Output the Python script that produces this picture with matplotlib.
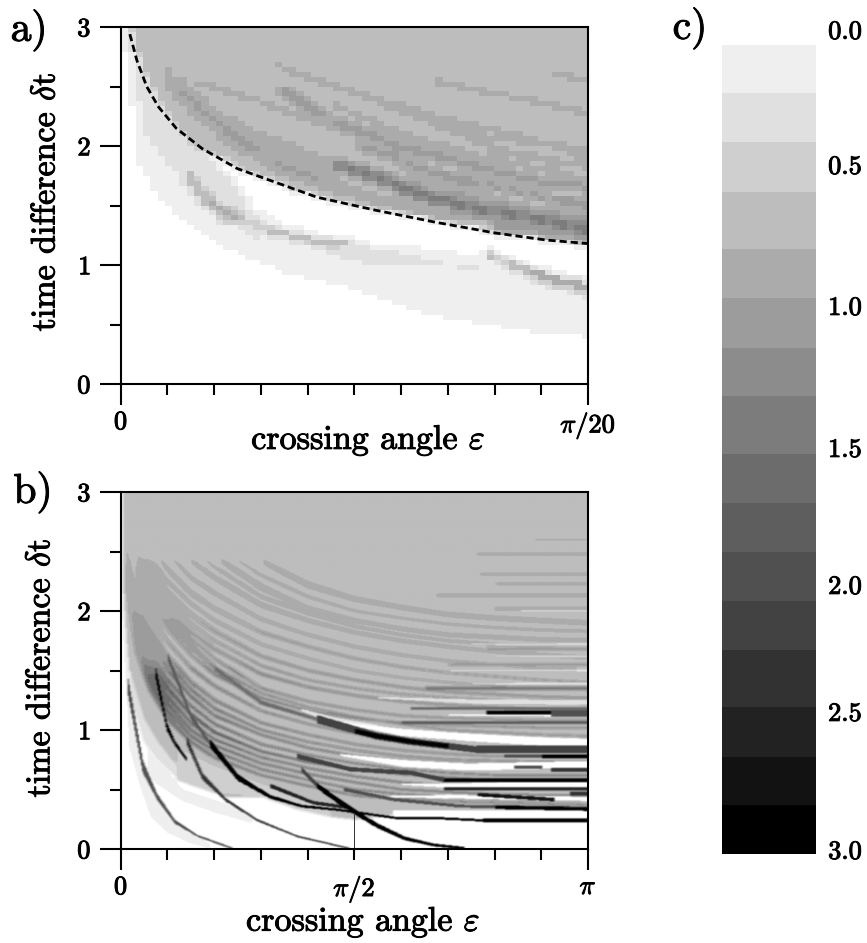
import numpy as np
import matplotlib
matplotlib.use("Agg")
import matplotlib.pyplot as plt
import matplotlib.patheffects as pe
from matplotlib.colors import ListedColormap, BoundaryNorm

W, H = 867, 943
plt.rcParams['font.family'] = ['cmr10', 'DejaVu Serif']
plt.rcParams['mathtext.fontset'] = 'cm'
plt.rcParams['axes.formatter.use_mathtext'] = True

# colour scale (panel c)
band_edges_px = [45, 93, 142, 192, 249, 298, 348, 396, 454, 503, 552, 601, 650, 707, 757, 805, 854]
band_grays = ['#efefef', '#e0e0e0', '#cfcfcf', '#bdbdbd', '#ababab', '#9c9c9c', '#8c8c8c', '#7c7c7c',
              '#6c6c6c', '#5e5e5e', '#505050', '#424242', '#323232', '#222222', '#121212', '#000000']
bar_labels = ['0.0', '0.5', '1.0', '1.5', '2.0', '2.5', '3.0']
bar_label_y = [32, 167, 308, 450, 587, 714, 852]

# ---- panel a: curves in (angle / (pi/20), dt)
a_dash_x = [.02, .035, .056, .081, .119, .174, .25, .335, .42, .546, .673, .80, .91, 1.0]
a_dash_y = [2.94, 2.72, 2.50, 2.33, 2.15, 1.98, 1.81, 1.69, 1.57, 1.46, 1.36, 1.27, 1.21, 1.18]
a_low_x = [.02, .026, .039, .056, .081, .124, .166, .217, .284, .36, .462, .589, .673, .758, .843, .927, 1.0]
a_low_y = [2.9, 2.02, 1.85, 1.74, 1.57, 1.41, 1.27, 1.15, 1.04, .92, .83, .68, .57, .51, .46, .41, .39]
a_regions = [  # xs, lo, hi, level
    ([.174, .25, .35, .5, .7, .85, 1], [1.97, 1.55, 1.35, 1.2, 1.12, 1.0, .88], [1.98, 1.81, 1.66, 1.5, 1.36, 1.26, 1.18], 0.0),
    ([.02, .05, .1, .15, .2, .25, .3], [2.9, 2.1, 1.85, 1.65, 1.45, 1.3, 1.2], [3, 2.65, 2.28, 2.05, 1.85, 1.65, 1.25], .3),
    ([.38, .46, .55, .67, .72, .78], [1.17, 1.07, 1.0, .99, .98, .96], [1.2, 1.17, 1.14, 1.04, 1.0, .97], .3),
    ([.868, .927, 1], [.84, .79, .72], [.96, .875, .82], .3),
]
a_streaks = [  # xs, ys, level, half-width
    ([.673, .758, .876, 1], [2.55, 2.47, 2.38, 2.27], .85, .02),
    ([.919, 1], [2.62, 2.55], .85, .02),
    ([.327, .42, .555, .673, .843, 1], [2.69, 2.55, 2.38, 2.25, 2.1, 1.91], .85, .02),
    ([.149, .293, .42, .546, .682], [2.55, 2.38, 2.19, 2.08, 1.99], .85, .02),
    ([.546, .673, .8, 1], [2.36, 2.19, 1.97, 1.83], .85, .022),
    ([.62, .78, 1], [2.27, 2.07, 1.98], .85, .02),
    ([.45, .6, .8, 1], [2.35, 2.1, 1.88, 1.72], .85, .02),
    ([.3, .45, .6, .8], [2.1, 1.87, 1.72, 1.57], .9, .02),
    ([.25, .35, .45], [2.05, 1.88, 1.75], .9, .02),
    ([.7, .85, 1], [1.74, 1.62, 1.53], 1.0, .02),
    ([.094, .174, .225, .335, .46], [2.59, 2.30, 2.22, 1.99, 1.85], .85, .03),
    ([.115, .217, .318, .42, .546, .673, .843, 1], [2.5, 2.16, 1.88, 1.71, 1.55, 1.43, 1.36, 1.29], .95, .03),
    ([.504, .673, .8, 1], [2.02, 1.77, 1.66, 1.49], 1.0, .03),
    ([.343, .462, .589, .69, .775, .885, 1], [2.48, 2.19, 2.0, 1.91, 1.81, 1.71, 1.66], 1.1, .02),
    ([.589, .758, 1], [1.66, 1.52, 1.35], 1.1, .04),
    ([.8, 1], [1.33, 1.24], 1.0, .06),
    ([.46, .546, .606, .673, .758, .843, 1], [1.85, 1.74, 1.64, 1.55, 1.46, 1.41, 1.28], 1.4, .03),
    ([.14, .2, .293, .403, .487], [1.77, 1.48, 1.32, 1.21, 1.17], .85, .02),
    ([.2, .335], [1.39, 1.29], .45, .02),
    ([.783, .868], [1.085, .96], .8, .02),
    ([.868, .927, 1], [.96, .875, .82], 1.15, .022),
]

# ---- panel b: curves in (angle / pi, dt)
b_base_x = [.005, .02, .04, .07, .1, .14, .225, .3, .38, .45, .5, .55, .6, 1.0]
b_base_y = [2.1, 1.4, 1.05, .85, .72, .56, .44, .44, .33, .27, .25, .27, .3, .3]
b_regions = [  # xs, lo, hi, level
    ([.005, .02, .04, .065, .1, .15, .19], [2.0, .84, .55, .27, .14, .05, .01], [2.2, 1.3, .85, .5, .27, .13, .04], .1),
    ([.06, .13, .2, .28], [.6, .41, .31, .22], [.85, .5, .41, .30], .1),
    ([.02, .05, .08, .12], [1.3, .9, .75, .6], [1.5, 1.1, .9, .7], .3),
    ([.12, .2, .3, .38, .45], [.58, .47, .44, .33, .27], [.85, .7, .55, .45, .35], .5),
]
fam_x = [.01, .03, .06, .10, .15, .20, .30, .40, .50, .60, .70, .80, .90, 1.0]
fam_curves = [  # y at each fam_x, level, half-width, first x
    ([3, 3, 3, 3, 3, 2.7, 2.42, 2.22, 2.1, 2.03, 1.97, 1.94, 1.92, 1.90], .85, .024, .25),
    ([3, 3, 3, 2.85, 2.62, 2.46, 2.2, 2.02, 1.92, 1.85, 1.8, 1.78, 1.76, 1.75], .85, .02, .12),
    ([3, 3, 3, 2.98, 2.72, 2.55, 2.3, 2.12, 2.0, 1.94, 1.89, 1.86, 1.84, 1.83], .85, .012, .15),
    ([3, 3, 2.95, 2.72, 2.52, 2.37, 2.12, 1.98, 1.87, 1.8, 1.75, 1.72, 1.69, 1.68], .9, .012, .08),
    ([3, 3, 2.85, 2.62, 2.42, 2.28, 2.05, 1.92, 1.82, 1.75, 1.7, 1.66, 1.63, 1.61], .9, .016, .05),
    ([3, 2.9, 2.7, 2.48, 2.28, 2.15, 1.93, 1.8, 1.7, 1.63, 1.58, 1.55, 1.52, 1.50], .95, .012, .04),
    ([2.95, 2.75, 2.55, 2.35, 2.15, 2.02, 1.82, 1.7, 1.6, 1.53, 1.48, 1.45, 1.42, 1.40], 1.0, .013, .02),
    ([2.9, 2.68, 2.46, 2.25, 2.06, 1.92, 1.72, 1.6, 1.5, 1.44, 1.4, 1.37, 1.35, 1.34], 1.0, .009, .02),
    ([2.85, 2.6, 2.38, 2.15, 1.97, 1.83, 1.62, 1.5, 1.42, 1.36, 1.32, 1.3, 1.28, 1.27], 1.1, .012, .02),
    ([2.82, 2.55, 2.31, 2.09, 1.89, 1.75, 1.54, 1.42, 1.35, 1.3, 1.27, 1.25, 1.23, 1.22], 1.15, .008, .02),
    ([2.8, 2.5, 2.25, 2.03, 1.82, 1.68, 1.47, 1.36, 1.29, 1.24, 1.21, 1.19, 1.17, 1.16], 1.25, .011, .02),
    ([2.78, 2.48, 2.22, 1.98, 1.77, 1.6, 1.35, 1.24, 1.17, 1.12, 1.1, 1.09, 1.08, 1.08], 1.3, .008, .02),
    ([2.75, 2.46, 2.2, 1.95, 1.72, 1.52, 1.23, 1.11, .99, .91, .86, .83, .83, .83], 1.3, .01, .02),
    ([2.68, 2.4, 2.14, 1.9, 1.68, 1.52, 1.31, 1.19, 1.11, 1.05, 1.0, .98, .96, .95], 1.35, .007, .02),
    ([2.6, 2.35, 2.08, 1.85, 1.63, 1.47, 1.27, 1.16, 1.1, 1.06, 1.04, 1.03, 1.02, 1.02], 1.4, .008, .02),
    ([2.58, 2.25, 1.98, 1.74, 1.52, 1.37, 1.16, 1.05, .97, .9, .86, .84, .83, .83], 1.4, .007, .02),
    ([2.55, 2.15, 1.87, 1.62, 1.4, 1.25, 1.06, .96, .88, .83, .8, .78, .78, .78], 1.4, .008, .01),
    ([2.52, 2.1, 1.8, 1.56, 1.34, 1.18, 1.0, .9, .83, .78, .75, .74, .73, .73], 1.5, .007, .01),
    ([2.5, 2.05, 1.75, 1.5, 1.28, 1.12, .96, .85, .78, .74, .72, .7, .69, .68], 1.5, .008, .01),
    ([2.47, 2, 1.68, 1.42, 1.2, 1.05, .88, .79, .72, .67, .64, .62, .62, .62], 1.6, .007, .01),
    ([2.45, 1.95, 1.62, 1.35, 1.13, .98, .82, .73, .67, .63, .6, .58, .58, .58], 1.8, .008, .01),
    ([2.42, 1.9, 1.56, 1.28, 1.06, .92, .77, .68, .61, .56, .53, .51, .5, .5], 1.7, .007, .01),
    ([2.4, 1.85, 1.5, 1.22, 1.0, .87, .72, .63, .56, .5, .48, .46, .45, .45], 1.6, .008, .01),
    ([2.35, 1.8, 1.44, 1.16, .95, .82, .67, .58, .5, .46, .44, .42, .41, .41], 1.6, .007, .01),
    ([2.3, 1.75, 1.38, 1.1, .9, .77, .62, .53, .45, .42, .4, .39, .38, .37], 1.5, .008, .01),
]
fade_y = [1.0, 1.6, 2.1, 2.5]  # streaks pale out with height
fade_lv = [3.0, 1.05, .88, .72]
b_light = [  # pale and white bands: xs, ys, level, half-width
    ([.55, .75, 1], [1.27, 1.24, 1.23], .25, [.006, .018, .018]),
    ([.75, 1], [1.39, 1.39], .25, [.004, .012]),
    ([.7, 1], [1.5, 1.5], .3, [.003, .01]),
    ([.8, 1], [1.62, 1.62], .3, [.003, .008]),
    ([.75, 1], [1.72, 1.72], .3, [.003, .01]),
    ([.85, 1], [2.0, 2.0], .3, [.003, .008]),
    ([.385, .455, .55], [1.17, 1.08, 1.02], .2, [.006, .02, .02]),
    ([.7, 1], [1.125, 1.125], 0.0, [.004, .012]),
    ([.476, .6, .74, .87, 1], [1.06, .98, .94, .91, .89], 0.0, [.008, .028, .032, .035, .035]),
    ([.47, .6, .74, .87, 1], [.79, .72, .69, .70, .71], 0.0, [.008, .028, .03, .03, .03]),
    ([.6, .72, .85, 1], [.545, .53, .54, .54], 0.0, [.006, .02, .025, .025]),
    ([.55, .7, .85, 1], [.44, .44, .43, .42], 0.0, [.005, .015, .018, .018]),
    ([.58, 1], [.29, .29], 0.0, .035),
]
b_right_short = [  # x0, x1, y, level, half-width
    (.885, 1, 2.6, .85, .008), (.76, 1, 2.48, .85, .01), (.767, 1, 2.31, .85, .009),
    (.8, 1, 2.23, .85, .01), (.673, 1, 2.13, .85, .014), (.8, 1, 2.02, .95, .012),
    (.78, 1, 1.68, 1.0, .012), (.7, 1, 1.55, 1.0, .012), (.65, 1, 1.35, 1.5, .01),
    (.62, 1, 1.18, 1.5, .012), (.78, .92, 1.145, 3.0, .016), (.92, 1, 1.14, 1.9, .03),
    (.6, 1, 1.06, 1.7, .012), (.76, 1, .84, 2.3, .03), (.9, 1, .78, 3.0, .016),
    (.82, .9, .78, 2.0, .014), (.92, 1, .667, 2.4, .014), (.84, .9, .685, 2.0, .012),
    (.69, 1, .578, 3.0, .016), (.69, 1, .507, 2.6, .012), (.96, 1, .465, 2.4, .014),
]
b_dark = [  # dark ridges: xs, ys, level, half-width
    ([.014, .047, .077, .115, .166, .238], [1.39, .69, .44, .23, .106, .006], 2.0, .0045),
    ([.14, .174, .225, .293, .377, .487], [.92, .61, .41, .24, .106, .006], 2.3, .005),
    ([.2, .3, .42, .5], [1.52, 1.23, 1.09, .99], 1.5, .01),
    ([.42, .546, .615, .76, 1], [1.09, .95, .905, .835, .835], 2.2, .026),
    ([.5, .546, .615, .7], [.99, .95, .905, .865], 3.0, .016),
    ([.073, .098, .115, .141], [1.51, 1.03, .89, .75], 3.0, .0035),
    ([.377, .49, .62, .69], [.78, .67, .64, .58], 2.2, .016),
    ([.32, .41, .49], [.53, .39, .345], 2.6, .011),
    ([.477, .584, .727, .864, 1], [.5, .415, .36, .353, .345], 2.0, .012),
    ([.8, 1], [.35, .335], 3.0, .014),
    ([.763, .927], [.457, .415], 2.8, .014),
    ([.1, .15, .19], [1.62, 1.11, .89], 1.9, .004),
    ([.19, .25, .318, .386, .462, .589, .673, .775, 1], [.89, .60, .44, .36, .33, .26, .26, .24, .24], 3.0, .009),
    ([.775, 1], [.24, .24], 3.0, .014),
    ([.386, .42], [.67, .53], 2.2, .006),
    ([.42, .462, .504, .546, .606, .665, .733], [.53, .41, .30, .20, .09, .036, .006], 3.0, .01),
]
vline_x = [.5, .5]
vline_y = [0, .3]

levels = np.linspace(0, 3, 17)
cmap = ListedColormap(band_grays)
cmap.set_under('white')
norm = BoundaryNorm(levels, cmap.N)
bold = [pe.withStroke(linewidth=.7, foreground='black')]


def ax_px(x0, y0, x1, y1):
    return fig.add_axes([x0 / W, 1 - y1 / H, (x1 - x0) / W, (y1 - y0) / H])


def region(Z, X, Y, xs, lo, hi, level):
    for j, x in enumerate(X):
        if xs[0] <= x <= xs[-1]:
            l, h = np.interp(x, xs, lo), np.interp(x, xs, hi)
            Z[(Y >= l) & (Y <= h), j] = level


def streak(Z, X, Y, xs, ys, level, hw, fade=False, aspect=357 / 467.5):
    s = np.gradient(np.array(ys, float), np.array(xs, float))
    hws = hw if isinstance(hw, list) else [hw] * len(xs)
    for j, x in enumerate(X):
        if xs[0] <= x <= xs[-1]:
            yc = np.interp(x, xs, ys)
            m = np.interp(x, xs, s) * aspect
            lv = min(level, np.interp(yc, fade_y, fade_lv)) if fade else level
            Z[np.abs(Y - yc) <= np.interp(x, xs, hws) * np.sqrt(1 + m * m), j] = lv


def above(Z, X, Y, xs, ys, level):
    for j, x in enumerate(X):
        if xs[0] <= x <= xs[-1]:
            Z[Y >= np.interp(x, xs, ys), j] = level


def soften(Z, kernel):
    pad = len(kernel) // 2
    P = np.pad(np.clip(Z, 0, None), pad, mode='edge')
    P = np.apply_along_axis(lambda c: np.convolve(c, kernel, mode='same'), 0, P)
    P = np.apply_along_axis(lambda c: np.convolve(c, kernel, mode='same'), 1, P)
    S = P[pad:-pad, pad:-pad]
    S[S < .03] = -1
    return S


def style(ax, xlab, xminor_labels):
    ax.set_xlim(0, 1)
    ax.set_ylim(0, 3)
    for s in ax.spines.values():
        s.set_linewidth(1.5)
    ax.set_yticks([0, 1, 2, 3])
    ax.set_yticks([.5, 1.5, 2.5], minor=True)
    ax.set_xticks([0, 1])
    ax.set_xticklabels(xlab)
    minor = [i / 10 for i in range(1, 10)]
    ax.set_xticks(minor, minor=True)
    ax.set_xticklabels(xminor_labels, minor=True)
    ax.tick_params(which='major', length=15, width=1.5, direction='out', labelsize=19, pad=4)
    ax.tick_params(which='minor', length=8, width=1.5, direction='out', labelsize=19)
    ax.tick_params(axis='x', which='minor', pad=10)
    ax.tick_params(axis='y', which='major', pad=6)
    ax.set_ylabel('time difference $\\delta$t', fontsize=24.5)
    ax.set_xlabel('crossing angle $\\varepsilon$', fontsize=24.5)
    ax.xaxis.label.set_va('center')
    ax.yaxis.label.set(ha='center', va='center', rotation_mode='default')
    for t in ax.get_xticklabels() + ax.get_xticklabels(minor=True) + ax.get_yticklabels():
        t.set_path_effects(bold)
    ax.xaxis.label.set_path_effects(bold)
    ax.yaxis.label.set_path_effects(bold)


fig = plt.figure(figsize=(W / 100, H / 100), dpi=100)
fig.patch.set_facecolor('white')

# panel a
axa = ax_px(120.5, 27, 588, 384)
Xa = (np.arange(64) + .5) / 64
Ya = (np.arange(72) + .5) / 72 * 3
Za = np.zeros((72, 64))
above(Za, Xa, Ya, a_low_x, a_low_y, .1)
above(Za, Xa, Ya, a_dash_x, a_dash_y, .7)
for xs, lo, hi, lv in a_regions:
    region(Za, Xa, Ya, xs, lo, hi, lv)
for xs, ys, lv, hw in a_streaks:
    streak(Za, Xa, Ya, xs, ys, lv, hw)
Za = soften(Za, [.15, .7, .15])
axa.imshow(Za, origin='lower', extent=[0, 1, 0, 3], aspect='auto', cmap=cmap, norm=norm,
           interpolation='nearest')
axa.plot(a_dash_x, a_dash_y, color='black', lw=2, ls=(0, (2.6, 1.4)))
style(axa, ['0', '$\\pi$/20'], [''] * 9)
axa.xaxis.set_label_coords(.53, -.157)
axa.yaxis.set_label_coords(-.159, .51)

# panel b
axb = ax_px(120.5, 492, 588, 849)
Xb = (np.arange(420) + .5) / 420
Yb = (np.arange(480) + .5) / 480 * 3
Zb = np.zeros((480, 420))
above(Zb, Xb, Yb, b_base_x, b_base_y, .7)
for xs, lo, hi, lv in b_regions:
    region(Zb, Xb, Yb, xs, lo, hi, lv)
for ys, lv, hw, x0 in fam_curves:
    keep = [i for i, v in enumerate(fam_x) if v >= x0]
    streak(Zb, Xb, Yb, [fam_x[i] for i in keep], [ys[i] for i in keep], lv, hw * .8, fade=True)
for x0, x1, y, lv, hw in b_right_short[:9]:
    streak(Zb, Xb, Yb, [x0, x1], [y, y], lv, hw)
Zb = soften(Zb, [.1, .2, .4, .2, .1])
for xs, ys, lv, hw in b_light:
    streak(Zb, Xb, Yb, xs, ys, lv, hw)
for x0, x1, y, lv, hw in b_right_short[9:]:
    streak(Zb, Xb, Yb, [x0, x1], [y, y], lv, hw)
for xs, ys, lv, hw in b_dark:
    streak(Zb, Xb, Yb, xs, ys, lv, hw)
Zb = soften(Zb, [.25, .5, .25])
axb.imshow(Zb, origin='lower', extent=[0, 1, 0, 3], aspect='auto', cmap=cmap, norm=norm,
           interpolation='bilinear', interpolation_stage='rgba')
axb.plot(vline_x, vline_y, color='#333333', lw=.7)
style(axb, ['0', '$\\pi$'], ['', '', '', '', '$\\pi$/2', '', '', '', ''])
axb.xaxis.set_label_coords(.519, -.204)
axb.yaxis.set_label_coords(-.17, .507)

# panel c
axc = ax_px(722, 45, 816, 854)
axc.set_xlim(0, 1)
axc.set_ylim(854, 45)
for i, c in enumerate(band_grays):
    axc.bar(.5, band_edges_px[i + 1] - band_edges_px[i], bottom=band_edges_px[i], width=1, color=c, linewidth=0)
axc.axis('off')
for t, y in zip(bar_labels, bar_label_y):
    fig.text(845 / W, 1 - y / H, t, fontsize=19, ha='center', va='center', path_effects=bold)

for t, x, y in [('a)', 29, 30), ('b)', 33, 492), ('c)', 690, 28)]:
    fig.text(x / W, 1 - y / H, t, fontsize=30, ha='center', va='center', path_effects=bold)

fig.savefig('out.png', dpi=100)
